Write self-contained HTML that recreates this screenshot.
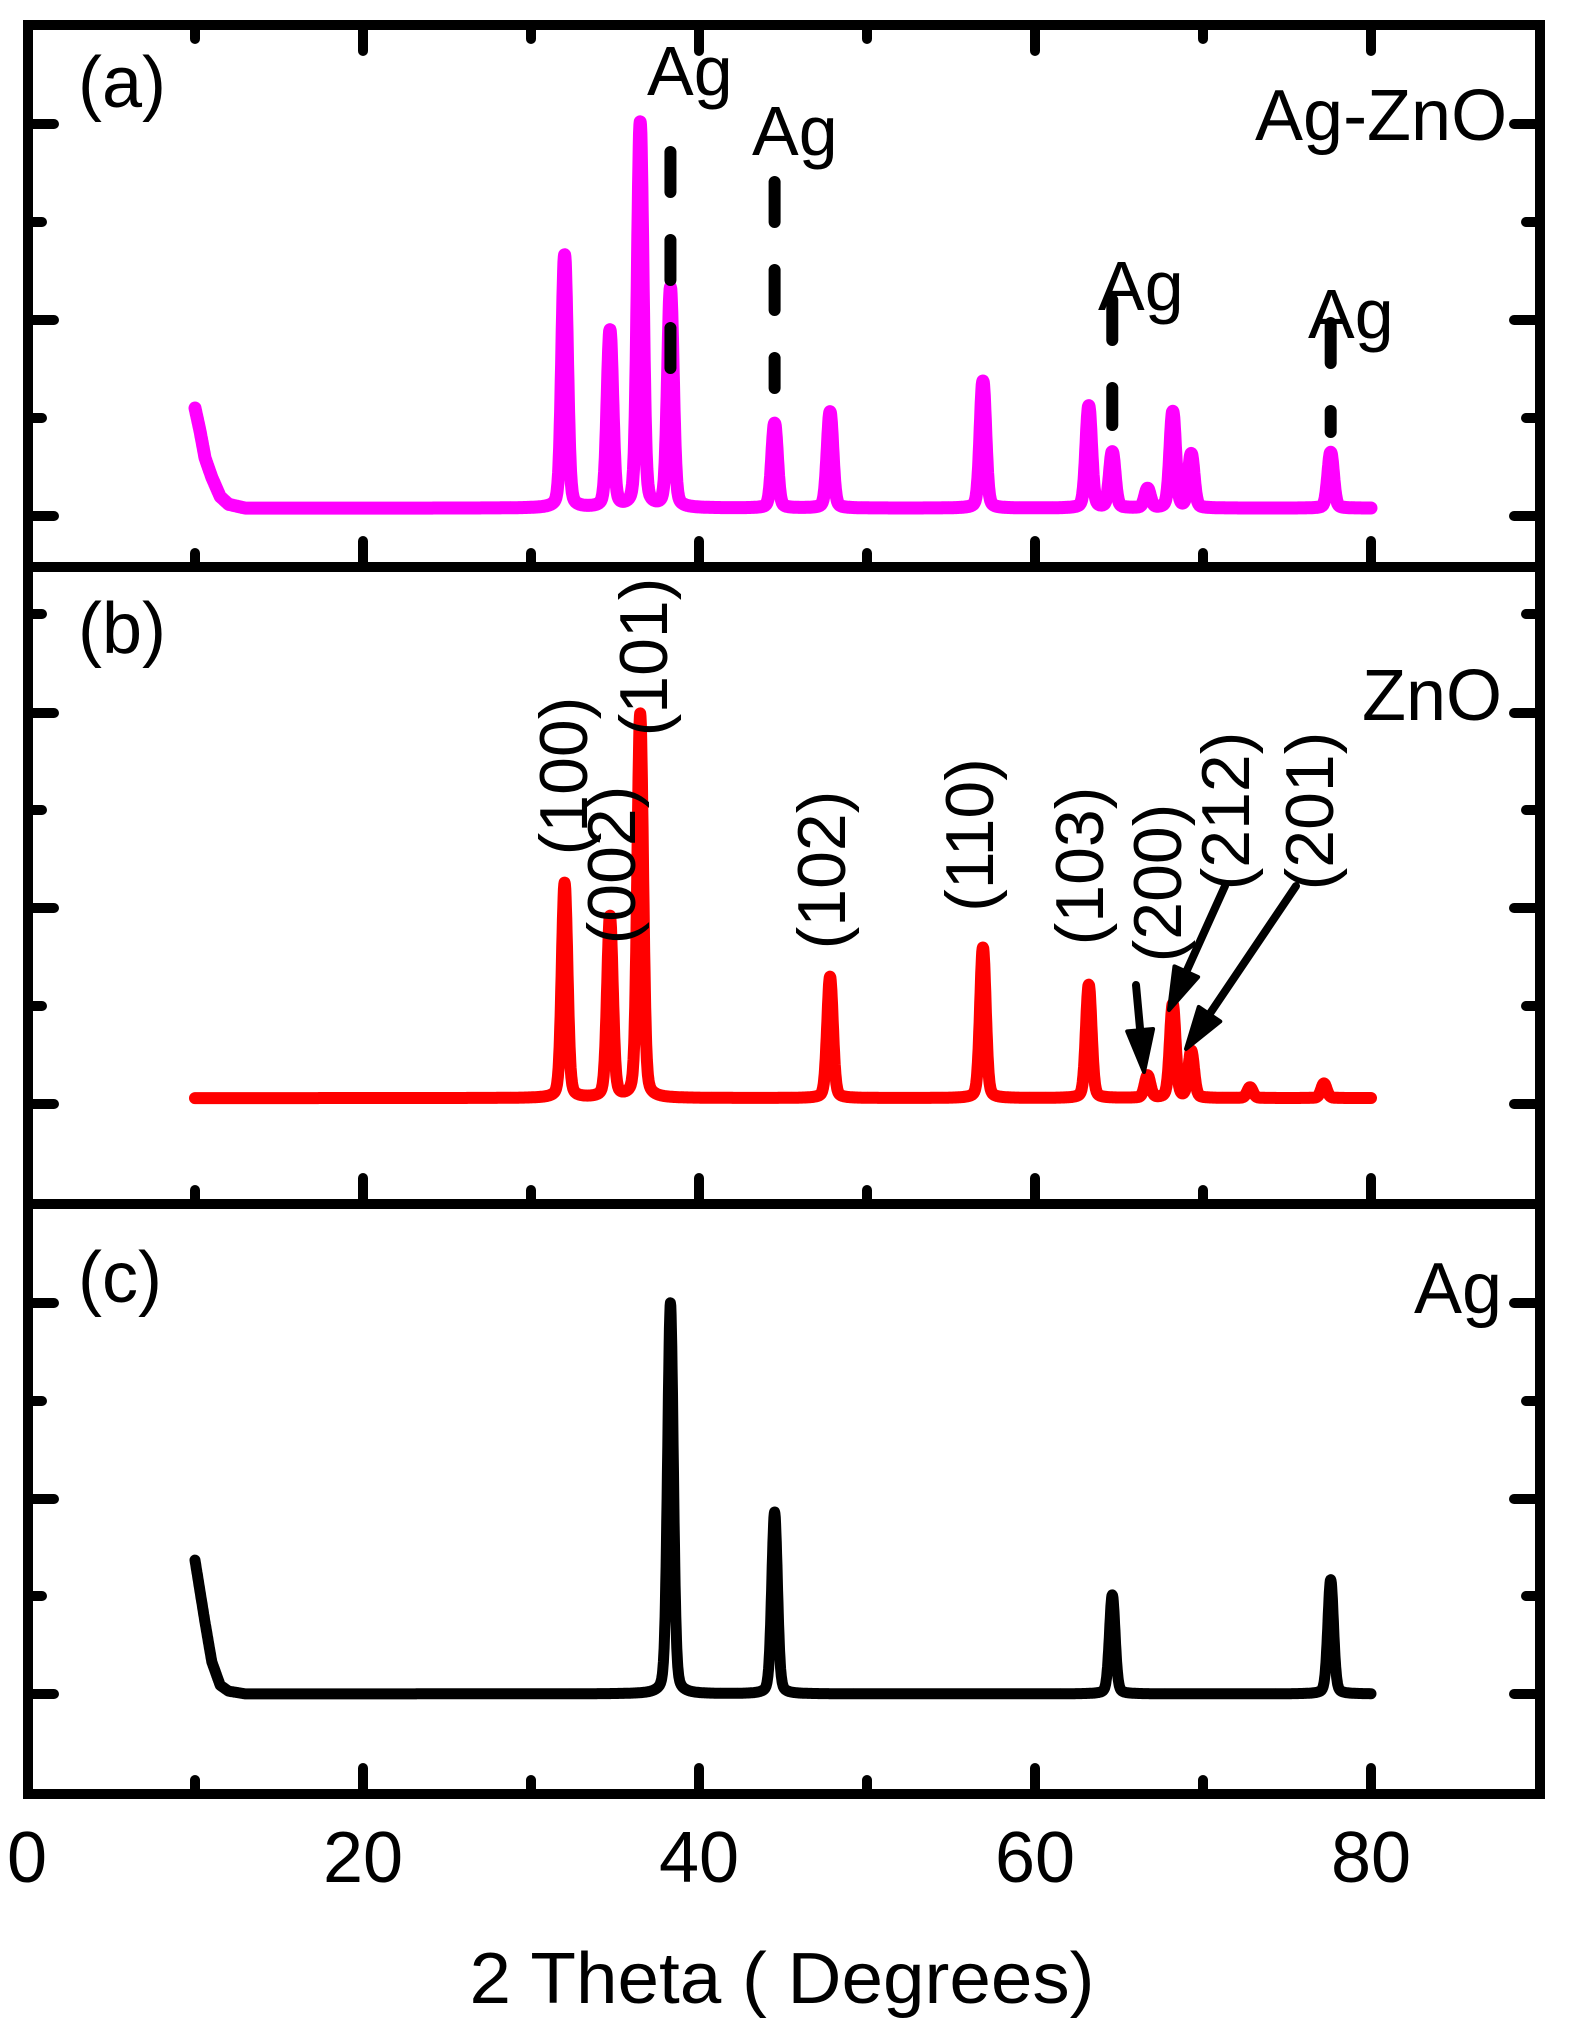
<!DOCTYPE html>
<html><head><meta charset="utf-8"><style>
html,body{margin:0;padding:0;background:#fff;}
svg{display:block;}
text{font-family:"Liberation Sans",Arial,sans-serif;fill:#000;}
</style></head><body>
<svg id="chart" width="1572" height="2044" viewBox="0 0 1572 2044" xmlns="http://www.w3.org/2000/svg">
<g id="curves"></g>
<g id="annot"></g>
<g id="frame"></g>
<text x="78" y="107" font-size="72">(a)</text>
<text x="78" y="653" font-size="72">(b)</text>
<text x="78" y="1302" font-size="72">(c)</text>
<text x="1255" y="140" font-size="72">Ag-ZnO</text>
<text x="1362" y="720" font-size="72">ZnO</text>
<text x="1414" y="1313" font-size="72">Ag</text>
<text x="782" y="2003" font-size="72" text-anchor="middle" textLength="625" lengthAdjust="spacingAndGlyphs">2 Theta ( Degrees)</text>
<g id="ticklabels"></g>
</svg>
<script>
// ---- data ----
const xTicks = [0, 20, 40, 60, 80];
const pinkPeakPos = [32.0, 34.7, 36.5, 38.3, 44.5, 47.8, 56.9, 63.2, 64.6, 66.7, 68.2, 69.3, 77.6];
const pinkPeakHt  = [65.7, 45.9, 100, 57, 22, 25, 33, 26.5, 14.5, 5, 25, 14, 14.5];
const pinkBgX = [10, 10.3, 10.6, 11, 11.5, 12, 13, 80];
const pinkBgY = [27, 21, 14, 9, 4, 2, 1, 1];
const redPeakPos = [32.0, 34.7, 36.5, 47.8, 56.9, 63.2, 66.7, 68.2, 69.3, 72.8, 77.2];
const redPeakHt  = [56, 47.1, 100, 31.6, 39.2, 29.5, 5.8, 24.4, 12.2, 2.8, 3.8];
const redBgX = [10, 80];
const redBgY = [0.5, 0.5];
const blackPeakPos = [38.3, 44.5, 64.6, 77.6];
const blackPeakHt  = [100, 46.5, 25.3, 29.2];
const blackBgX = [10, 10.3, 10.6, 11, 11.5, 12, 13, 80];
const blackBgY = [35, 27, 19, 9, 3, 1.5, 0.8, 0.8];
const agMarkers = [38.3, 44.5, 64.6, 77.6];

// ---- axes ----
const X0 = 27, XS = 16.8;
function x(v){ return X0 + XS*v; }
function yA(v){ return 512 - 3.85*v; }
function yB(v){ return 1100 - 3.84*v; }
function yC(v){ return 1697 - 3.91*v; }

const NS = "http://www.w3.org/2000/svg";
function mk(tag, attrs, parent){
  const e = document.createElementNS(NS, tag);
  for (const k in attrs) e.setAttribute(k, attrs[k]);
  parent.appendChild(e); return e;
}
function bg(t, bx, by){
  for (let i=0;i<bx.length-1;i++){
    if (t>=bx[i] && t<=bx[i+1]) return by[i]+(by[i+1]-by[i])*(t-bx[i])/(bx[i+1]-bx[i]);
  }
  return by[by.length-1];
}
function profile(t, pos, ht, bx, by){
  let s = bg(t,bx,by);
  for (let i=0;i<pos.length;i++){
    const d = t-pos[i];
    const g = Math.exp(-d*d/(2*0.17*0.17));
    const l = 1/(1+(d/0.2)*(d/0.2));
    s += ht[i]*(0.75*g+0.25*l);
  }
  return s;
}
function curve(pos, ht, bx, by, yf){
  let d = "";
  for (let t=10; t<=80.0001; t+=0.02){
    const v = profile(t,pos,ht,bx,by);
    d += (d?"L":"M")+x(t).toFixed(1)+","+yf(v).toFixed(1);
  }
  return d;
}
const curves = document.getElementById('curves');
let p;
p = mk('path',{d:curve(pinkPeakPos,pinkPeakHt,pinkBgX,pinkBgY,yA),fill:'none',stroke:'#ff00ff','stroke-width':13,'stroke-linejoin':'round','stroke-linecap':'round'},curves);


p = mk('path',{d:curve(redPeakPos,redPeakHt,redBgX,redBgY,yB),fill:'none',stroke:'#ff0000','stroke-width':12,'stroke-linejoin':'round','stroke-linecap':'round'},curves);


p = mk('path',{d:curve(blackPeakPos,blackPeakHt,blackBgX,blackBgY,yC),fill:'none',stroke:'#000','stroke-width':11,'stroke-linejoin':'round','stroke-linecap':'round'},curves);



// ---- annotations ----
const annot = document.getElementById('annot');
const agDashY = [[152,373],[182,388],[300,425],[323,432]];
const agLabelPos = [[647,95],[752,155],[1098,310],[1308,338]];
for (let i=0;i<agMarkers.length;i++){
  const xm = x(agMarkers[i]);
  const l = mk('line',{x1:xm,y1:agDashY[i][0],x2:xm,y2:agDashY[i][1],stroke:'#000','stroke-width':12,'stroke-dasharray':'40 48','stroke-linecap':'round'},annot);
  
  
  const t = mk('text',{x:agLabelPos[i][0],y:agLabelPos[i][1],'font-size':70},annot);
  t.textContent = 'Ag';
  
  
}
const hkl = ['(101)','(100)','(002)','(102)','(110)','(103)','(200)','(212)','(201)'];
const hklPos = [[667,657],[587,776],[635,865],[845,870],[993,835],[1103,866],[1181,883],[1249,811],[1333,811]];
for (let i=0;i<hkl.length;i++){
  const t = mk('text',{x:0,y:0,'font-size':68,'text-anchor':'middle',transform:`translate(${hklPos[i][0]},${hklPos[i][1]}) rotate(-90)`},annot);
  t.textContent = hkl[i];
  
  
}
const arrows = [[1136,985,1144,1072],[1225,886,1169,1010],[1296,886,1186,1049]];
for (const a of arrows){
  const dx=a[2]-a[0], dy=a[3]-a[1], L=Math.hypot(dx,dy), ux=dx/L, uy=dy/L;
  const hl=42, hw=13;
  const bx=a[2]-ux*hl, by=a[3]-uy*hl;
  const g = mk('g',{},annot);
  
  
  mk('line',{x1:a[0],y1:a[1],x2:bx,y2:by,stroke:'#000','stroke-width':8,'stroke-linecap':'round'},g);
  mk('polygon',{points:`${a[2]},${a[3]} ${bx-uy*hw},${by+ux*hw} ${bx+uy*hw},${by-ux*hw}`,fill:'#000',stroke:'#000','stroke-width':4,'stroke-linejoin':'round'},g);
}

// ---- frame and ticks ----
const frame = document.getElementById('frame');
const L=28, R=1540, T=25, B=1794, divs=[567,1204];
const st = {stroke:'#000','stroke-width':10,'stroke-linecap':'round',fill:'none'};
let f = mk('rect',{x:L,y:T,width:R-L,height:B-T,stroke:'#000','stroke-width':10,fill:'none'},frame);


for (const d of divs){
  const l = mk('line',Object.assign({x1:L,y1:d,x2:R,y2:d},st),frame);
  
  
}
const xMinor=[10,30,50,70], xMajor=[20,40,60,80];
const bottoms=[567,1204,1794];
for (const b of bottoms){
  for (const v of xMajor) mk('line',Object.assign({x1:x(v),y1:b,x2:x(v),y2:b-26},st),frame);
  for (const v of xMinor) mk('line',Object.assign({x1:x(v),y1:b,x2:x(v),y2:b-14},st),frame);
}
for (const v of xMajor) mk('line',Object.assign({x1:x(v),y1:T,x2:x(v),y2:T+26},st),frame);
for (const v of xMinor) mk('line',Object.assign({x1:x(v),y1:T,x2:x(v),y2:T+14},st),frame);
const yMajor=[124,320,516,713,908,1104,1303,1499,1694];
const yMinor=[222,418,614,810,1006,1401,1596];
for (const yy of yMajor){
  mk('line',Object.assign({x1:L,y1:yy,x2:L+26,y2:yy},st),frame);
  mk('line',Object.assign({x1:R,y1:yy,x2:R-26,y2:yy},st),frame);
}
for (const yy of yMinor){
  mk('line',Object.assign({x1:L,y1:yy,x2:L+14,y2:yy},st),frame);
  mk('line',Object.assign({x1:R,y1:yy,x2:R-14,y2:yy},st),frame);
}
const tl = document.getElementById('ticklabels');
for (const v of xTicks){
  const t = mk('text',{x:x(v),y:1882,'font-size':72,'text-anchor':'middle'},tl);
  t.textContent = String(v);
  
  
}
</script>
</body></html>
